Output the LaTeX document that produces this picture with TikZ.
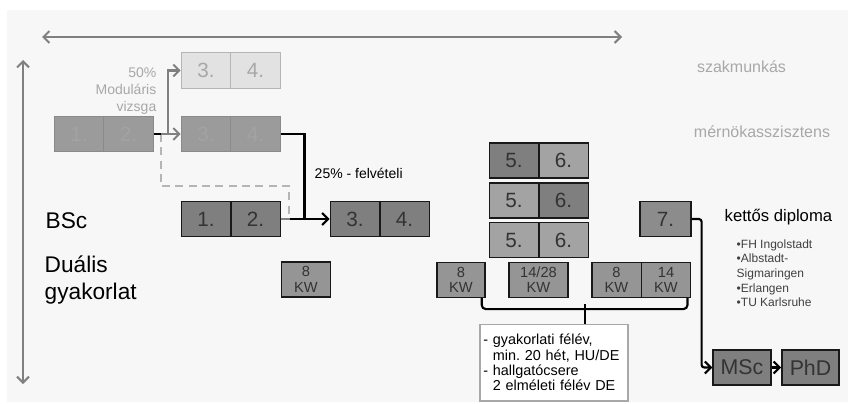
\documentclass[tikz,border=0pt]{standalone}
\usepackage{fontspec}
\setmainfont{Liberation Sans}
\usetikzlibrary{arrows.meta,calc}
\definecolor{bggray}{HTML}{F7F7F7}
\definecolor{dkfill}{HTML}{7F7F7F}
\definecolor{mdfill}{HTML}{A3A3A3}
\definecolor{kwfill}{HTML}{959595}
\definecolor{sevfill}{HTML}{8C8C8C}
\definecolor{fntfill}{HTML}{9B9B9B}
\definecolor{fntdraw}{HTML}{8A8A8A}
\definecolor{fnttext}{HTML}{A3A3A3}
\definecolor{lgtfill}{HTML}{E2E2E2}
\definecolor{lgtdraw}{HTML}{B5B5B5}
\definecolor{txtgray}{HTML}{A8A8A8}
\definecolor{axgray}{HTML}{808080}
\begin{document}
\begin{tikzpicture}[x=.75pt, y=-.75pt, >={Straight Barb[length=4.5pt,width=9pt]},
    sem/.style={draw=black!90, line width=1.1pt, minimum width=37.1pt, minimum height=26.5pt,
        inner sep=0pt, text=black!80, font=\fontsize{15.5}{15.5}\selectfont},
    dk/.style={sem, fill=dkfill},
    md/.style={sem, fill=mdfill},
    kw/.style={sem, fill=kwfill, minimum height=26pt, align=center, font=\fontsize{11}{11.5}\selectfont},
    faint/.style={sem, draw=fntdraw, fill=fntfill, text=fnttext, line width=.8pt},
    light/.style={sem, draw=lgtdraw, fill=lgtfill, text=txtgray, line width=.8pt},
    blk/.style={line width=1.6pt},
    gry/.style={line width=1.5pt, draw=axgray},
    dashline/.style={line width=1.5pt, draw=lgtdraw, dashed, dash pattern=on 6pt off 4pt},
    lbl/.style={text=txtgray, font=\fontsize{12}{14}\selectfont}]
\useasboundingbox (0,0) rectangle (848,403);
\fill[bggray] (7,10) rectangle (848,402);
\draw[gry, <->] (42,37) -- (622,37);
\draw[gry, <->] (23,60) -- (23,384);

\node[lbl] (szm) at (741.5,67) {szakmunkás};
\node[lbl] (mea) at (762,132) {mérnökasszisztens};
\node[anchor=west, font=\fontsize{17}{20}\selectfont] (bsc) at (41,221) {BSc};
\node[anchor=west, align=left, font=\fontsize{17}{20}\selectfont] (dua) at (40,280) {Duális\\gyakorlat};
\node[anchor=east, align=right, text=txtgray, font=\fontsize{10.5}{12.5}\selectfont] (mod) at (161,91) {50\%\\Moduláris\\vizsga};

\node[light] (t3) at (206,70.5) {3.};
\node[light] (t4) at (255.5,70.5) {4.};
\node[faint] (l1) at (79,134) {1.};
\node[faint] (l2) at (128.5,134) {2.};
\node[faint] (m3) at (206,134) {3.};
\node[faint] (m4) at (255.5,134) {4.};
\node[dk] (b1) at (206,219) {1.};
\node[dk] (b2) at (255.5,219) {2.};
\node[dk] (b3) at (355,219) {3.};
\node[dk] (b4) at (404.5,219) {4.};
\node[kw] (k0) at (306,279.5) {8\\KW};

\node[dk] (a5) at (514,160.5) {5.};
\node[md] (a6) at (563.5,160.5) {6.};
\node[md] (c5) at (514,200.5) {5.};
\node[dk] (c6) at (563.5,200.5) {6.};
\node[md] (d5) at (514,240) {5.};
\node[md] (d6) at (563.5,240) {6.};
\node[kw, minimum width=36pt] (k1) at (461,280) {8\\KW};
\node[kw, minimum width=44pt] (k2) at (538.5,280) {14/28\\KW};
\node[kw] (k3) at (616.5,280) {8\\KW};
\node[kw] (k4) at (666,280) {14\\KW};
\node[sem, fill=sevfill, minimum width=38pt] (s7) at (665.5,219) {7.};
\node[dk, minimum width=43.5pt, font=\fontsize{16}{16}\selectfont] (msc) at (742,367.5) {MSc};
\node[dk, minimum width=43pt, font=\fontsize{16}{16}\selectfont] (phd) at (810.5,367.5) {PhD};

\node[draw=txtgray, fill=white, line width=1pt, minimum width=111pt, minimum height=57.5pt,
    text width=106pt, align=left, inner xsep=2.5pt, font=\fontsize{10.8}{11.6}\selectfont] (nt) at (554,362.5)
    {- gyakorlati félév,\\\phantom{-}\ min.\ 20 hét, HU/DE\\- hallgatócsere\\\phantom{-}\ 2 elméleti félév DE};

\node[anchor=west, font=\fontsize{12.5}{14}\selectfont] (ket) at (720,217) {kettős diploma};
\node[anchor=north west, align=left, text=black!75, font=\fontsize{9}{10.9}\selectfont] (uni) at (732,235)
    {•FH Ingolstadt\\•Albstadt-\\Sigmaringen\\•Erlangen\\•TU Karlsruhe};
\node[anchor=west, font=\fontsize{10.5}{12}\selectfont] (fel) at (310,173) {25\% - felvételi};

\coordinate (d1) at ($(l2.east)+(7,0)$);
\coordinate (d2) at ($(b2.east)+(8,-2)$);
\coordinate (j1) at ($(b3.west)+(-25,0)$);
\draw[dashline] (d1) -- ++(0,52) -| (d2);
\draw[gry, ->] (l2.east) -- (m3.west);
\draw[gry, ->] ($(l2.east)+(14,0)$) |- (t3.west);
\draw[blk] (l2.east) -- ++(7,0);
\draw[gry] (b2.east) -- ++(9,0);
\draw[blk] (m4.east) -| (j1);
\draw[blk, ->] ($(b2.east)+(9,0)$) -- (b3.west);

\coordinate (brc) at ($(k1.south east)!.5!(k4.south east)+(-4,0)$);
\draw[blk, rounded corners=3pt] ($(k1.south east)+(-4,0)$) -- ++(0,11) -- ($(k4.south east)+(-4,11)$) -- ($(k4.south east)+(-4,0)$);
\draw[blk] ($(brc)+(0,6)$) -- (brc |- nt.north);

\draw[blk, ->, rounded corners=2pt] (s7.east) -- ++(10,0) |- (msc.west);
\draw[blk, ->] (msc.east) -- (phd.west);
\end{tikzpicture}
\end{document}
